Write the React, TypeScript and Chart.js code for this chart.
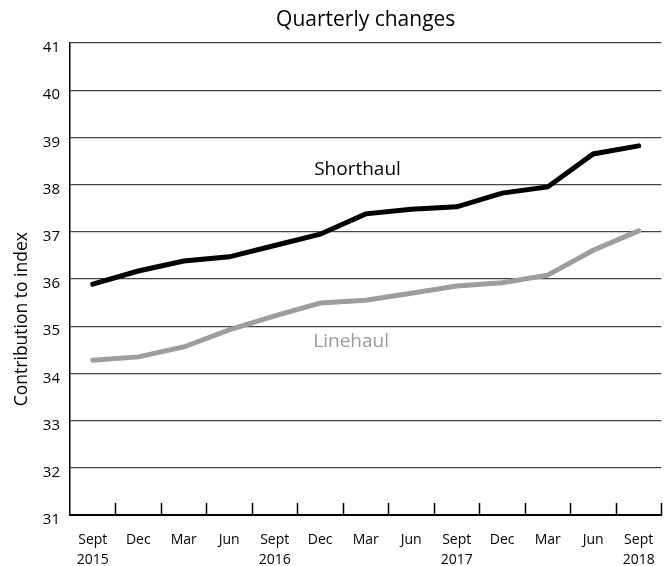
import React, { useEffect, useRef } from "react";
import { Chart, registerables } from "chart.js";

Chart.register(...registerables);

const categories: string[][] = [
  ["Sept", "2015"], ["Dec"], ["Mar"], ["Jun"],
  ["Sept", "2016"], ["Dec"], ["Mar"], ["Jun"],
  ["Sept", "2017"], ["Dec"], ["Mar"], ["Jun"],
  ["Sept", "2018"],
];

const shorthaul: number[] = [35.89, 36.17, 36.38, 36.47, 36.71, 36.95, 37.38, 37.48, 37.53, 37.82, 37.95, 38.65, 38.82];
const linehaul: number[] = [34.28, 34.35, 34.56, 34.92, 35.22, 35.49, 35.55, 35.7, 35.85, 35.92, 36.08, 36.61, 37.02];

const yMin = 31;
const yMax = 41;
const titleText = "Quarterly changes";
const yAxisTitle = "Contribution to index";

// series name labels placed in data coordinates (category index, value)
const seriesLabels = [
  { text: "Shorthaul", idx: 5.82, value: 38.31, color: "#000000" },
  { text: "Linehaul", idx: 5.68, value: 34.68, color: "#9a9a9a" },
];

const FONT = "'Open Sans', 'DejaVu Sans', sans-serif";

const overlayPlugin = {
  id: "overlay",
  afterDraw(chart: any) {
    const { ctx, chartArea, scales } = chart;
    const x = scales.x;
    const y = scales.y;
    ctx.save();
    // inward tick marks at category boundaries
    ctx.strokeStyle = "#000";
    ctx.lineWidth = 1.5;
    const n = categories.length;
    for (let i = 0; i < n; i++) {
      const px = i < n - 1 ? (x.getPixelForValue(i) + x.getPixelForValue(i + 1)) / 2 : chartArea.right;
      ctx.beginPath();
      ctx.moveTo(Math.round(px) + 0.5, chartArea.bottom);
      ctx.lineTo(Math.round(px) + 0.5, chartArea.bottom - 12);
      ctx.stroke();
    }
    // series labels
    ctx.font = `19px ${FONT}`;
    ctx.textAlign = "center";
    ctx.textBaseline = "middle";
    for (const l of seriesLabels) {
      const px = x.getPixelForValue(0) + l.idx * (x.getPixelForValue(1) - x.getPixelForValue(0));
      ctx.fillStyle = l.color;
      ctx.fillText(l.text, px, y.getPixelForValue(l.value));
    }
    // y-axis title
    ctx.fillStyle = "#000";
    ctx.font = `17.5px ${FONT}`;
    ctx.translate(22, chartArea.top + (chartArea.bottom - chartArea.top) * 0.585);
    ctx.rotate(-Math.PI / 2);
    ctx.textAlign = "center";
    ctx.textBaseline = "middle";
    ctx.fillText(yAxisTitle, 0, 0);
    ctx.restore();
  },
};

export default function App() {
  const ref = useRef<HTMLCanvasElement | null>(null);
  useEffect(() => {
    document.body.style.margin = "0";
    const canvas = ref.current;
    if (!canvas) return;
    const chart = new Chart(canvas, {
      type: "line",
      data: {
        labels: categories,
        datasets: [
          {
            label: "Shorthaul",
            data: shorthaul,
            borderColor: "#000000",
            borderWidth: 5,
            pointRadius: 0,
            tension: 0,
            borderCapStyle: "round",
          },
          {
            label: "Linehaul",
            data: linehaul,
            borderColor: "#9d9d99",
            borderWidth: 5,
            pointRadius: 0,
            tension: 0,
            borderCapStyle: "round",
          },
        ],
      },
      options: {
        animation: false,
        responsive: false,
        devicePixelRatio: 1,
        layout: { padding: { left: 0, right: 7, top: 0, bottom: 0 } },
        plugins: {
          legend: { display: false },
          tooltip: { enabled: false },
          title: {
            display: true,
            text: titleText,
            fullSize: false,
            color: "#000",
            font: { family: FONT, size: 21, weight: "normal", lineHeight: 1.2 },
            padding: { top: 7, bottom: 10.8 },
          },
        },
        scales: {
          x: {
            offset: true,
            grid: { display: false, drawTicks: false, offset: true },
            border: { display: true, color: "#000", width: 2 },
            ticks: {
              color: "#000",
              font: { family: FONT, size: 14, lineHeight: 1.42 },
              padding: 15,
              maxRotation: 0,
              autoSkip: false,
            },
            afterFit: (s: any) => {
              s.height = 51;
            },
          },
          y: {
            min: yMin,
            max: yMax,
            grid: { color: "#444", lineWidth: 1.2, drawTicks: false },
            border: { display: true, color: "#000", width: 1.5 },
            ticks: {
              stepSize: 1,
              color: "#000",
              font: { family: FONT, size: 15 },
              padding: 10,
              labelOffset: 5,
            },
            afterFit: (s: any) => {
              s.width = 70;
            },
          },
        },
      },
      plugins: [overlayPlugin],
    });
    return () => chart.destroy();
  }, []);
  return (
    <div style={{ width: 670, height: 566, background: "#fff" }}>
      <canvas ref={ref} width={670} height={566} style={{ display: "block" }} />
    </div>
  );
}
